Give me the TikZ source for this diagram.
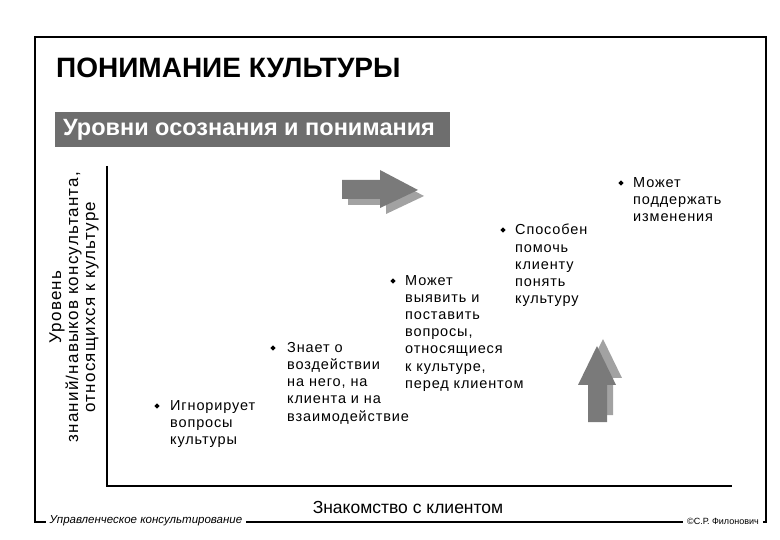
\documentclass[tikz,border=0pt]{standalone}
\usepackage{fontspec}
\setmainfont{Liberation Sans}
\newfontfamily\bodyfont[LetterSpace=6]{Liberation Sans}
\newfontfamily\sidefont[LetterSpace=7]{Liberation Sans}
\usepackage{xcolor}
\usetikzlibrary{shapes.geometric}
\definecolor{arrowdark}{HTML}{7A7A7A}
\definecolor{arrowlight}{HTML}{A2A2A2}
\definecolor{barfill}{HTML}{6E6E6E}

\begin{document}
\begin{tikzpicture}[x=1pt,y=-1pt,
  txt/.style={anchor=north west,inner sep=0pt,align=left,font=\bodyfont\fontsize{14.5}{17.2}\selectfont},
  bul/.style={diamond,fill=black,inner sep=0pt,minimum size=5.5pt},
  foot/.style={fill=white,inner sep=4pt}]
\useasboundingbox (0,0) rectangle (780,540);
% frame
\draw[line width=2.6pt] (35,37) rectangle (766,522);
\node (title) at (56,68) [anchor=west,inner sep=0pt,font=\fontsize{28}{30}\selectfont\bfseries] {ПОНИМАНИЕ КУЛЬТУРЫ};
\node (bar) at (55,112) [anchor=north west,fill=barfill,minimum width=395pt,minimum height=35pt,inner sep=0pt] {};
\node (sub) at (63,129.5) [anchor=west,inner sep=0pt,text=white,font=\fontsize{23.5}{26}\selectfont\bfseries] {Уровни осознания и понимания};
% axes
\coordinate (top) at (107,166);
\coordinate (o) at (107,486);
\coordinate (end) at (732,486);
\draw[line width=1.4pt] (top) -- (o) -- (end);
\node (ylab) at (74,307) [rotate=90,align=center,inner sep=0pt,font=\sidefont\fontsize{17}{17}\selectfont] {Уровень\\знаний/навыков консультанта,\\относящихся к культуре};
\node (xlab) at (408,507) [inner sep=0pt,font=\fontsize{17.5}{20}\selectfont] {Знакомство с клиентом};
% arrows
\fill[arrowlight] (348,186) -- (386,186) -- (386,176) -- (424,196) -- (386,214) -- (386,205) -- (348,205) -- cycle;
\fill[arrowdark] (342,180) -- (380,180) -- (380,170) -- (418,190) -- (380,208) -- (380,199) -- (342,199) -- cycle;
\fill[arrowlight] (594,415) -- (594,378) -- (584,378) -- (603,339) -- (622,378) -- (613,378) -- (613,415) -- cycle;
\fill[arrowdark] (588,422) -- (588,385) -- (578,385) -- (597,346) -- (616,385) -- (607,385) -- (607,422) -- cycle;
% bullets
\node (b1) at (157,406) [bul] {};
\node (t1) at (170,400) [txt] {Игнорирует\\вопросы\\культуры};
\node (b2) at (273,348) [bul] {};
\node (t2) at (287,342) [txt] {Знает о\\воздействии\\на него, на\\клиента и на\\взаимодействие};
\node (b3) at (393,281) [bul] {};
\node (t3) at (405,275) [txt] {Может\\выявить и\\поставить\\вопросы,\\относящиеся\\к культуре,\\перед клиентом};
\node (b4) at (503,230) [bul] {};
\node (t4) at (515,224) [txt] {Способен\\помочь\\клиенту\\понять\\культуру};
\node (b5) at (621,183) [bul] {};
\node (t5) at (633,177) [txt] {Может\\поддержать\\изменения};
% footer
\node (f1) at (146,521) [foot,font=\fontsize{11.5}{13}\selectfont\itshape] {Управленческое консультирование};
\node (f2) at (723,521) [foot,font=\fontsize{9}{11}\selectfont] {©С.Р. Филонович};
\end{tikzpicture}
\end{document}
